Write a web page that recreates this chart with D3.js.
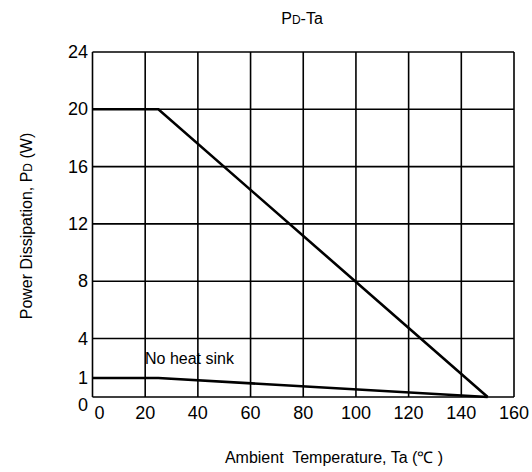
<!DOCTYPE html>
<html>
<head>
<meta charset="utf-8">
<script src="https://cdn.jsdelivr.net/npm/d3@7"></script>
<style>
  body { margin: 0; background: #fff; }
  svg text { font-family: "Liberation Sans", Arial, sans-serif; fill: #000; }
</style>
</head>
<body>
<div id="chart"></div>
<script>
// data
var xTicks = [0, 20, 40, 60, 80, 100, 120, 140, 160];
var yTicks = [0, 1, 4, 8, 12, 16, 20, 24];
var yGrid = [4, 8, 12, 16, 20, 24];
var heatSinkTa = [0, 25, 150];
var heatSinkPd = [20, 20, 0];
var noSinkTa = [0, 25, 150];
var noSinkPd = [1, 1, 0];

var width = 532, height = 472;

var svg = d3.select("#chart").append("svg")
    .attr("width", width)
    .attr("height", height);

var x = d3.scaleLinear().domain([0, 160]).range([92.5, 514]);
// y axis is stretched near zero (0..1..4 get more room)
var y = d3.scaleLinear().domain([0, 1, 4, 24]).range([397, 378, 338.5, 52]);

// grid
svg.append("g").selectAll("line.v")
    .data(xTicks)
    .enter().append("line")
    .attr("x1", d => x(d)).attr("x2", d => x(d))
    .attr("y1", y(0)).attr("y2", y(24))
    .attr("stroke", "#000").attr("stroke-width", 1.6);

svg.append("g").selectAll("line.h")
    .data(yGrid)
    .enter().append("line")
    .attr("x1", x(0)).attr("x2", x(160))
    .attr("y1", d => y(d)).attr("y2", d => y(d))
    .attr("stroke", "#000").attr("stroke-width", 1.6);

// axis line
svg.append("line")
    .attr("x1", x(0)).attr("x2", x(160))
    .attr("y1", y(0)).attr("y2", y(0))
    .attr("stroke", "#000").attr("stroke-width", 1.6);

// tick labels
svg.append("g").selectAll("text")
    .data(xTicks)
    .enter().append("text")
    .attr("x", d => d === 0 ? x(d) + 7 : x(d))
    .attr("y", 419)
    .attr("text-anchor", "middle")
    .attr("font-size", "18px")
    .text(d => d);

svg.append("g").selectAll("text")
    .data(yTicks)
    .enter().append("text")
    .attr("x", 88)
    .attr("y", d => d === 0 ? y(d) + 14 : y(d) + 6)
    .attr("text-anchor", "end")
    .attr("font-size", "18px")
    .text(d => d);

// curves
var line = d3.line()
    .x(d => x(d[0]))
    .y(d => y(d[1]));

svg.append("path")
    .datum(d3.zip(heatSinkTa, heatSinkPd))
    .attr("d", line)
    .attr("fill", "none")
    .attr("stroke", "#000")
    .attr("stroke-width", 2.6);

svg.append("path")
    .datum(d3.zip(noSinkTa, noSinkPd))
    .attr("d", line)
    .attr("fill", "none")
    .attr("stroke", "#000")
    .attr("stroke-width", 2.6);

svg.append("text")
    .attr("x", 145)
    .attr("y", 364)
    .attr("font-size", "16px")
    .text("No heat sink");

// title
var title = svg.append("text")
    .attr("x", 302)
    .attr("y", 24)
    .attr("text-anchor", "middle")
    .attr("font-size", "16px");
title.append("tspan").text("P");
title.append("tspan").attr("font-size", "12px").text("D");
title.append("tspan").text("-Ta");

// y label
var yl = svg.append("text")
    .attr("transform", "translate(32,226) rotate(-90)")
    .attr("text-anchor", "middle")
    .attr("font-size", "16px");
yl.append("tspan").text("Power Dissipation, P");
yl.append("tspan").attr("font-size", "12px").text("D");
yl.append("tspan").text(" (W)");

// x label
svg.append("text")
    .attr("x", 334)
    .attr("y", 463)
    .attr("text-anchor", "middle")
    .attr("font-size", "16px")
    .style("white-space", "pre")
    .text("Ambient  Temperature, Ta (\u2103 )");
</script>
</body>
</html>
